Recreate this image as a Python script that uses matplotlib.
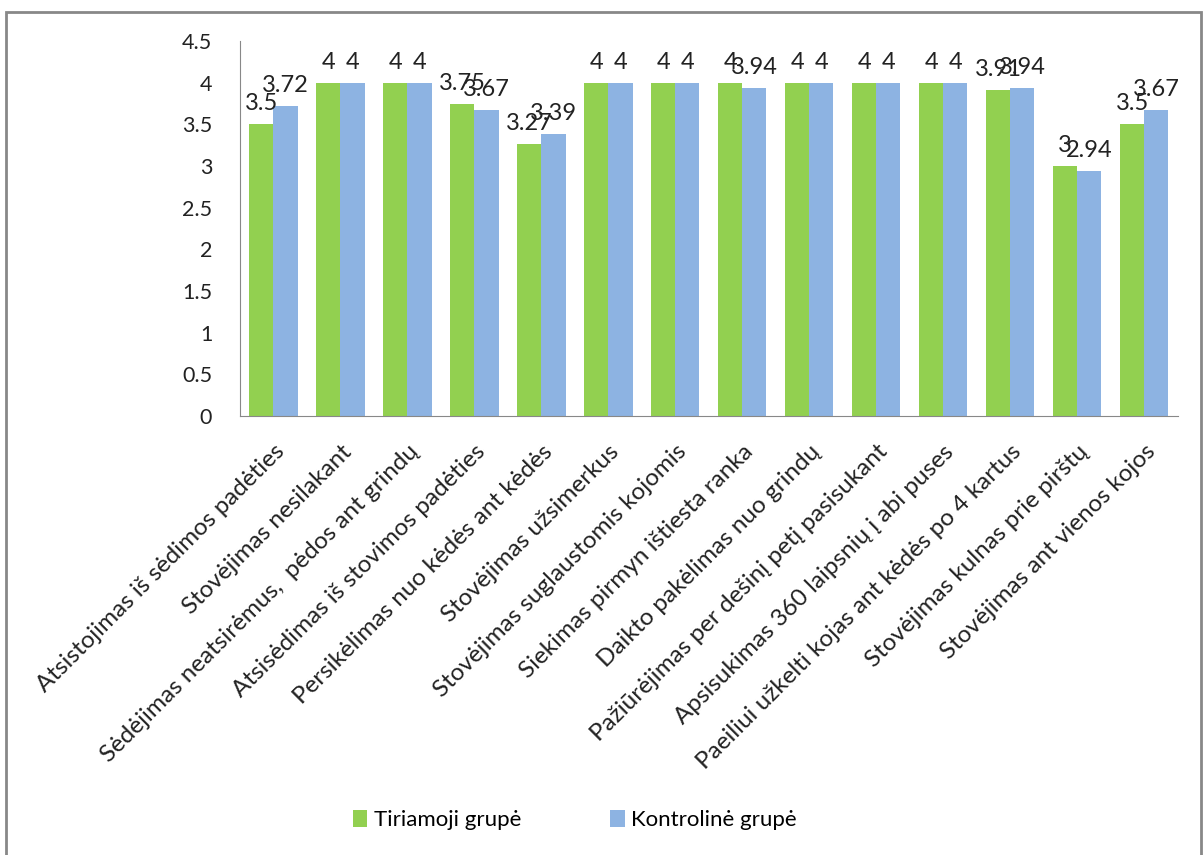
import matplotlib
matplotlib.use("Agg")
import matplotlib.pyplot as plt
import numpy as np
from matplotlib.patches import Rectangle

categories = [
    "Atsistojimas iš sėdimos padėties",
    "Stovėjimas nesilakant",
    "Sėdėjimas neatsirėmus,  pėdos ant grindų",
    "Atsisėdimas iš stovimos padėties",
    "Persikėlimas nuo kėdės ant kėdės",
    "Stovėjimas užsimerkus",
    "Stovėjimas suglaustomis kojomis",
    "Siekimas pirmyn ištiesta ranka",
    "Daikto pakėlimas nuo grindų",
    "Pažiūrėjimas per dešinį petį pasisukant",
    "Apsisukimas 360 laipsnių į abi puses",
    "Paeiliui užkelti kojas ant kėdės po 4 kartus",
    "Stovėjimas kulnas prie pirštų",
    "Stovėjimas ant vienos kojos",
]
tiriamoji = [3.5, 4, 4, 3.75, 3.27, 4, 4, 4, 4, 4, 4, 3.91, 3, 3.5]
kontroline = [3.72, 4, 4, 3.67, 3.39, 4, 4, 3.94, 4, 4, 4, 3.94, 2.94, 3.67]

plt.rcParams['font.family'] = ['Lato', 'DejaVu Sans']

fig = plt.figure(figsize=(12.03, 8.55), dpi=100)
ax = fig.add_axes([0.1995, 0.5135, 0.7795, 0.4385])

x = np.arange(len(categories))
w = 0.36
b1 = ax.bar(x - w / 2, tiriamoji, w, color='#92D050', label='Tiriamoji grupė')
b2 = ax.bar(x + w / 2, kontroline, w, color='#8DB3E2', label='Kontrolinė grupė')

# data labels above every bar (they overlap in places, like the original)
for bars, vals in [(b1, tiriamoji), (b2, kontroline)]:
    for r, v in zip(bars, vals):
        ax.text(r.get_x() + r.get_width() / 2, v + 0.12, f"{v:g}",
                ha='center', va='bottom', fontsize=17, color='#222222')

ax.set_xlim(-0.5, len(categories) - 0.5)
ax.set_ylim(0, 4.5)
ax.set_yticks(np.arange(0, 4.51, 0.5))
ax.set_yticklabels([f"{t:g}" for t in np.arange(0, 4.51, 0.5)])
ax.set_xticks(x)
ax.set_xticklabels(categories, rotation=45, ha='right', va='top',
                   rotation_mode='anchor')
ax.tick_params(axis='y', length=0, pad=20, labelsize=15.5, colors='#222222')
ax.tick_params(axis='x', length=0, pad=18, labelsize=17.5, colors='#222222')
for s in ['top', 'right']:
    ax.spines[s].set_visible(False)
for s in ['left', 'bottom']:
    ax.spines[s].set_color('#888888')

fig.legend(handles=[b1, b2], loc='center', bbox_to_anchor=(0.478, 0.041),
           ncol=2, frameon=False, fontsize=16, handlelength=0.65,
           handleheight=0.85, columnspacing=4.0, handletextpad=0.3)

fig.patches.append(Rectangle((6 / 1203, -0.1), 1195 / 1203, 0.1 + 843 / 855,
                             transform=fig.transFigure, fill=False,
                             edgecolor='#888888', linewidth=2))

fig.savefig('out.png', dpi=100)
